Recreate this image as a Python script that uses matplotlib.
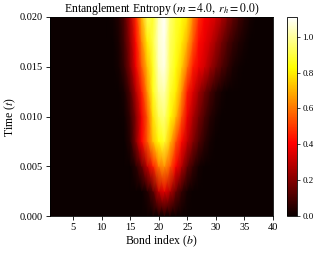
import matplotlib
matplotlib.use("Agg")
import matplotlib.pyplot as plt
import numpy as np

plt.rcParams['font.family'] = ['Liberation Serif', 'DejaVu Serif']
plt.rcParams['mathtext.fontset'] = 'stix'

# bond index and time grid
bonds = list(range(1, 41))
times = [0.0, 0.0025, 0.005, 0.0075, 0.01, 0.0125, 0.015, 0.0175, 0.02]

# entanglement entropy per bond, one row per time
zeros10 = [0.0] * 10
s_t0000 = zeros10 + zeros10 + zeros10 + zeros10
s_t0025 = zeros10 + [0, 0, 0, 0, 0, 0, 0, 0.04, 0.13, 0.30] + \
    [0.36, 0.28, 0.16, 0.07, 0.02, 0, 0, 0, 0, 0] + zeros10
s_t0050 = zeros10 + [0, 0, 0, 0, 0, 0.05, 0.15, 0.30, 0.45, 0.60] + \
    [0.65, 0.55, 0.40, 0.28, 0.15, 0.07, 0.02, 0, 0, 0] + zeros10
s_t0075 = zeros10 + [0, 0, 0, 0, 0.05, 0.20, 0.40, 0.55, 0.72, 0.83] + \
    [0.88, 0.72, 0.55, 0.42, 0.30, 0.20, 0.12, 0.06, 0.02, 0] + zeros10
s_t0100 = zeros10 + [0, 0, 0, 0.01, 0.07, 0.20, 0.38, 0.55, 0.78, 0.92] + \
    [0.96, 0.83, 0.72, 0.55, 0.38, 0.27, 0.18, 0.11, 0.05, 0.02] + zeros10
s_t0125 = zeros10 + [0, 0, 0, 0.03, 0.12, 0.28, 0.45, 0.65, 0.85, 0.99] + \
    [1.02, 0.88, 0.80, 0.65, 0.45, 0.35, 0.25, 0.17, 0.10, 0.05] + \
    [0.02, 0, 0, 0, 0, 0, 0, 0, 0, 0]
s_t0150 = zeros10 + [0, 0, 0.02, 0.08, 0.20, 0.38, 0.55, 0.72, 0.86, 1.04] + \
    [1.08, 0.92, 0.84, 0.75, 0.60, 0.45, 0.38, 0.33, 0.25, 0.18] + \
    [0.12, 0.07, 0.03, 0.01, 0, 0, 0, 0, 0, 0]
s_t0175 = zeros10 + [0, 0, 0.03, 0.10, 0.23, 0.42, 0.62, 0.80, 0.90, 1.05] + \
    [1.09, 0.93, 0.87, 0.80, 0.70, 0.55, 0.42, 0.37, 0.32, 0.25] + \
    [0.18, 0.12, 0.07, 0.04, 0.02, 0, 0, 0, 0, 0]
s_t0200 = zeros10 + [0, 0.01, 0.04, 0.12, 0.27, 0.47, 0.70, 0.92, 0.88, 1.04] + \
    [1.11, 0.95, 0.88, 0.84, 0.78, 0.62, 0.48, 0.40, 0.37, 0.33] + \
    [0.27, 0.20, 0.14, 0.09, 0.05, 0.02, 0, 0, 0, 0]

entropy = np.array([s_t0000, s_t0025, s_t0050, s_t0075, s_t0100,
                    s_t0125, s_t0150, s_t0175, s_t0200])

fig = plt.figure(figsize=(3.19, 2.61), dpi=100)
ax = fig.add_axes([0.157, 0.172, 0.699, 0.763])
cax = fig.add_axes([0.900, 0.172, 0.031, 0.763])

mesh = ax.pcolormesh(bonds, times, entropy, cmap='hot', shading='gouraud',
                     vmin=0, vmax=entropy.max())
ax.set_xlim(1, 40)
ax.set_ylim(0, 0.02)
ax.set_xticks([5, 10, 15, 20, 25, 30, 35, 40])
ax.set_yticks([0.0, 0.005, 0.010, 0.015, 0.020])
ax.set_yticklabels(['0.000', '0.005', '0.010', '0.015', '0.020'])
ax.tick_params(labelsize=7.5, length=3, width=0.6, pad=2)
for sp in ax.spines.values():
    sp.set_linewidth(0.6)

ax.set_title(r'Entanglement Entropy ($m = 4.0,\ r_h = 0.0$)', fontsize=8.5, pad=2)
ax.set_xlabel(r'Bond index ($b$)', fontsize=8.5, labelpad=1)
ax.set_ylabel(r'Time ($t$)', fontsize=8.5, labelpad=1)

cb = fig.colorbar(mesh, cax=cax)
cb.set_ticks([0.0, 0.2, 0.4, 0.6, 0.8, 1.0])
cb.ax.tick_params(labelsize=6.5, length=2, width=0.5, pad=2)
cb.outline.set_linewidth(0.6)

fig.savefig('out.png', dpi=100)
